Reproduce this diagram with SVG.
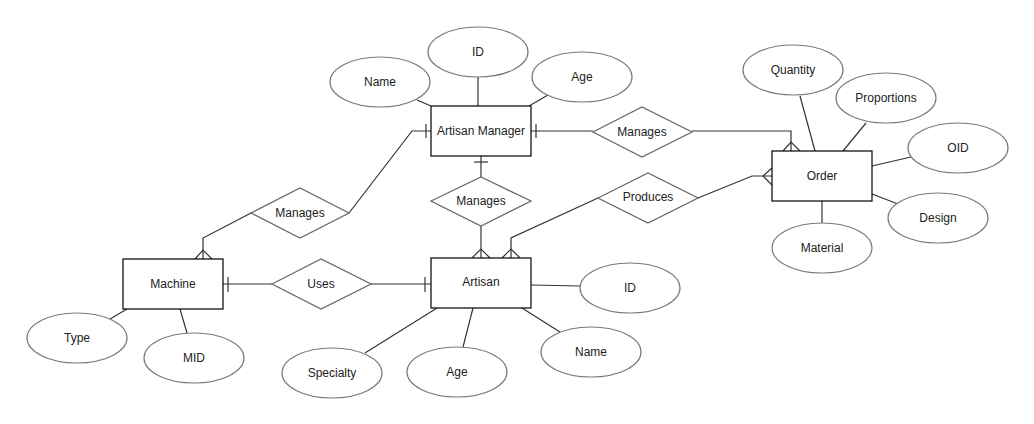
<svg xmlns="http://www.w3.org/2000/svg" width="1034" height="424" viewBox="0 0 1034 424">
<style>
.ent{fill:#fff;stroke:#000;stroke-width:1.2}
.att{fill:#fff;stroke:#7a7a7a;stroke-width:1.2}
.rel{fill:#fff;stroke:#6a6a6a;stroke-width:1.3}
.ln{fill:none;stroke:#333;stroke-width:1.2}
.t{font-family:"Liberation Sans",Arial,sans-serif;font-size:12px;fill:#222;text-anchor:middle;dominant-baseline:central}
</style>
<rect width="1034" height="424" fill="#fff"/>
<g id="connectors">
<!-- AM attributes -->
<line class="ln" x1="417" y1="100" x2="431" y2="106"/>
<line class="ln" x1="478" y1="77" x2="478" y2="106"/>
<line class="ln" x1="548" y1="95" x2="529" y2="106"/>
<!-- AM - Manages(top right) - Order -->
<polyline class="ln" points="531,131 593,131"/>
<line class="ln" x1="536" y1="124" x2="536" y2="138"/>
<polyline class="ln" points="692,131 791,131 791,151"/>
<polyline class="ln" points="783,151 791,142 800,151"/>
<!-- Produces - Order -->
<polyline class="ln" points="698,198 752,176 772,176"/>
<polyline class="ln" points="772,168 763,176 772,185"/>
<!-- Produces - Artisan -->
<polyline class="ln" points="598,198 511,238 511,258"/>
<polyline class="ln" points="502,258 511,249 520,258"/>
<!-- AM - Manages(middle) - Artisan -->
<line class="ln" x1="481" y1="156" x2="481" y2="177"/>
<line class="ln" x1="474" y1="162" x2="488" y2="162"/>
<line class="ln" x1="481" y1="226" x2="481" y2="258"/>
<polyline class="ln" points="472,258 481,249 490,258"/>
<!-- AM - Manages(left) - Machine -->
<polyline class="ln" points="431,131 412,131 349,213"/>
<line class="ln" x1="426" y1="124" x2="426" y2="138"/>
<polyline class="ln" points="251,213 203,238 203,259"/>
<polyline class="ln" points="195,259 203,250 212,259"/>
<!-- Machine - Uses - Artisan -->
<line class="ln" x1="223" y1="284" x2="272" y2="284"/>
<line class="ln" x1="228" y1="277" x2="228" y2="292"/>
<line class="ln" x1="371" y1="284" x2="431" y2="284"/>
<line class="ln" x1="425" y1="277" x2="425" y2="292"/>
<!-- Order attributes -->
<line class="ln" x1="800" y1="96" x2="815" y2="151"/>
<line class="ln" x1="866" y1="123" x2="843" y2="151"/>
<line class="ln" x1="911" y1="157" x2="872" y2="166"/>
<line class="ln" x1="872" y1="194" x2="898" y2="204"/>
<line class="ln" x1="822" y1="201" x2="822" y2="223"/>
<!-- Machine attributes -->
<line class="ln" x1="110" y1="319" x2="127" y2="309"/>
<line class="ln" x1="180" y1="309" x2="187" y2="333"/>
<!-- Artisan attributes -->
<line class="ln" x1="531" y1="285" x2="580" y2="286"/>
<line class="ln" x1="522" y1="308" x2="560" y2="332"/>
<line class="ln" x1="473" y1="308" x2="463" y2="347"/>
<line class="ln" x1="437" y1="308" x2="365" y2="353"/>
</g>
<g id="artisan-manager">
<rect class="ent" x="431" y="106" width="100" height="50"/>
<text class="t" x="481" y="131">Artisan Manager</text>
</g>
<g id="am-name"><ellipse class="att" cx="380" cy="82" rx="50" ry="25"/><text class="t" x="380" y="82">Name</text></g>
<g id="am-id"><ellipse class="att" cx="478" cy="52" rx="50" ry="25"/><text class="t" x="478" y="52">ID</text></g>
<g id="am-age"><ellipse class="att" cx="582" cy="77" rx="50" ry="25"/><text class="t" x="582" y="77">Age</text></g>
<g id="manages-am-order"><polygon class="rel" points="593,132 642,107 692,132 642,157"/><text class="t" x="642" y="132">Manages</text></g>
<g id="order">
<rect class="ent" x="772" y="151" width="100" height="50"/>
<text class="t" x="822" y="176">Order</text>
</g>
<g id="order-quantity"><ellipse class="att" cx="793" cy="70" rx="50" ry="25"/><text class="t" x="793" y="70">Quantity</text></g>
<g id="order-proportions"><ellipse class="att" cx="886" cy="98" rx="50" ry="25"/><text class="t" x="886" y="98">Proportions</text></g>
<g id="order-oid"><ellipse class="att" cx="958" cy="148" rx="50" ry="25"/><text class="t" x="958" y="148">OID</text></g>
<g id="order-design"><ellipse class="att" cx="938" cy="218" rx="50" ry="25"/><text class="t" x="938" y="218">Design</text></g>
<g id="order-material"><ellipse class="att" cx="822" cy="248" rx="50" ry="25"/><text class="t" x="822" y="248">Material</text></g>
<g id="produces"><polygon class="rel" points="598,198 648,173 698,198 648,223"/><text class="t" x="648" y="197">Produces</text></g>
<g id="manages-am-artisan"><polygon class="rel" points="431,201 481,177 531,201 481,226"/><text class="t" x="481" y="201">Manages</text></g>
<g id="manages-am-machine"><polygon class="rel" points="251,213 300,188 349,213 300,238"/><text class="t" x="300" y="213">Manages</text></g>
<g id="machine">
<rect class="ent" x="123" y="259" width="100" height="50"/>
<text class="t" x="173" y="284">Machine</text>
</g>
<g id="machine-type"><ellipse class="att" cx="77" cy="338" rx="50" ry="25"/><text class="t" x="77" y="338">Type</text></g>
<g id="machine-mid"><ellipse class="att" cx="194" cy="358" rx="50" ry="25"/><text class="t" x="194" y="358">MID</text></g>
<g id="uses"><polygon class="rel" points="272,284 321,259 371,284 321,309"/><text class="t" x="321" y="284">Uses</text></g>
<g id="artisan">
<rect class="ent" x="431" y="258" width="100" height="50"/>
<text class="t" x="481" y="282">Artisan</text>
</g>
<g id="artisan-id"><ellipse class="att" cx="630" cy="288" rx="50" ry="25"/><text class="t" x="630" y="288">ID</text></g>
<g id="artisan-name"><ellipse class="att" cx="591" cy="352" rx="50" ry="25"/><text class="t" x="591" y="352">Name</text></g>
<g id="artisan-age"><ellipse class="att" cx="457" cy="372" rx="50" ry="25"/><text class="t" x="457" y="372">Age</text></g>
<g id="artisan-specialty"><ellipse class="att" cx="332" cy="373" rx="50" ry="25"/><text class="t" x="332" y="373">Specialty</text></g>
</svg>
